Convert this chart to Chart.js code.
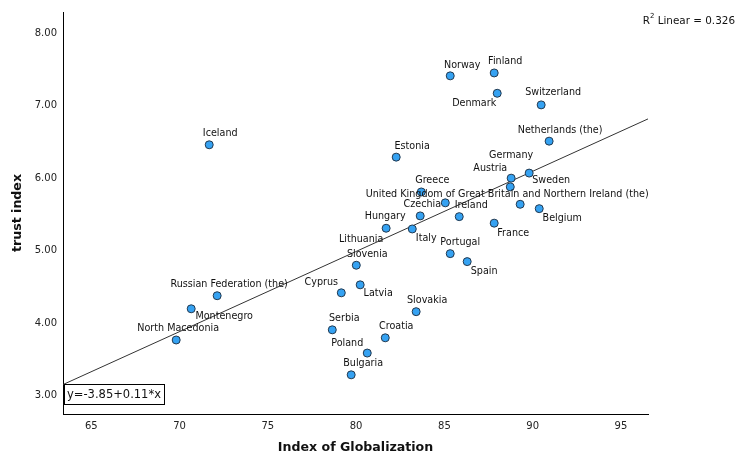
<!DOCTYPE html>
<html>
<head>
<meta charset="utf-8">
<script src="https://cdn.jsdelivr.net/npm/chart.js@4/dist/chart.umd.min.js"></script>
<style>
  html, body { margin: 0; padding: 0; background: #fff; }
  #wrap { width: 739px; height: 456px; }
</style>
</head>
<body>
<div id="wrap"><canvas id="myChart"></canvas></div>
<script>
const countries = ["Norway", "Finland", "Denmark", "Switzerland", "Netherlands (the)", "Iceland",
  "Estonia", "Germany", "Austria", "Sweden",
  "United Kingdom of Great Britain and Northern Ireland (the)", "Belgium", "France", "Greece",
  "Czechia", "Hungary", "Ireland", "Lithuania", "Italy", "Portugal", "Spain", "Slovenia",
  "Latvia", "Cyprus", "Slovakia", "Serbia", "Croatia", "Poland", "Bulgaria",
  "Russian Federation (the)", "Montenegro", "North Macedonia"];
const globalization = [85.33, 87.82, 87.99, 90.48, 90.93, 71.68, 82.27, 88.78, 88.73, 89.80,
  89.29, 90.37, 87.82, 83.69, 85.05, 83.63, 85.84, 81.70, 83.18, 85.33, 86.29, 80.01,
  80.23, 79.16, 83.40, 78.65, 81.65, 80.63, 79.72, 72.13, 70.66, 69.81];
const trust = [7.41, 7.45, 7.17, 7.01, 6.51, 6.46, 6.29, 6.00, 5.88, 6.07,
  5.64, 5.58, 5.38, 5.81, 5.66, 5.48, 5.47, 5.31, 5.30, 4.96, 4.85, 4.80,
  4.53, 4.42, 4.16, 3.91, 3.80, 3.59, 3.29, 4.38, 4.20, 3.77];
const xTicks = [65, 70, 75, 80, 85, 90, 95];
const yTicks = [3, 4, 5, 6, 7, 8];
const fitIntercept = -3.85;
const fitSlope = 0.1105;
const rSquared = 0.326;

// where each name sits relative to its point (pixels, text centre)
const labelOffsets = [[12,-10],[11,-11],[-23,10],[12,-12],[11,-11],[11,-11],
  [16,-11],[0,-23],[-20,-18],[22,7],
  [-13,-10],[23,10],[19,10],[11,-11],
  [-23,2],[-35,1],[12,-11],[-25,11],[14,10],[10,-11],[17,10],[11,-11],
  [18,9],[-20,-10],[11,-11],[12,-11],[11,-11],[-20,-10],[12,-11],
  [12,-11],[33,8],[2,-11]];

const xMin = 63.4, xMax = 96.53;
const font = "'DejaVu Sans', sans-serif";

const labelPlugin = {
  id: 'labels',
  afterDatasetsDraw(chart) {
    const c = chart.ctx;
    const meta = chart.getDatasetMeta(0);
    c.save();
    c.font = "9.6px " + font;
    c.fillStyle = "#111";
    c.textAlign = "center";
    c.textBaseline = "middle";
    meta.data.forEach((pt, i) => {
      c.fillText(countries[i], pt.x + labelOffsets[i][0], pt.y + labelOffsets[i][1]);
    });
    c.restore();
  },
  afterDraw(chart) {
    const c = chart.ctx;
    const a = chart.chartArea;
    c.save();
    // equation box
    c.font = "11.5px " + font;
    c.textBaseline = "middle";
    c.textAlign = "left";
    const eq = "y=" + fitIntercept.toFixed(2) + "+" + fitSlope.toFixed(2) + "*x";
    const w = c.measureText(eq).width;
    c.fillStyle = "#fff";
    c.fillRect(a.left + 1, 384, w + 6, 20);
    c.strokeStyle = "#000";
    c.lineWidth = 1;
    c.strokeRect(a.left + 1.5, 384.5, w + 6, 20);
    c.fillStyle = "#111";
    c.fillText(eq, a.left + 4, 395);
    // R squared
    c.font = "10.4px " + font;
    const rest = " Linear = " + rSquared.toFixed(3);
    const wr = c.measureText(rest).width;
    const right = 735;
    c.fillText(rest, right - wr, 21);
    c.font = "7px " + font;
    const w2 = c.measureText("2").width;
    c.fillText("2", right - wr - w2, 16);
    c.font = "10.4px " + font;
    const wR = c.measureText("R").width;
    c.fillText("R", right - wr - w2 - wR, 21);
    c.restore();
  }
};

new Chart(document.getElementById('myChart'), {
  type: 'scatter',
  data: {
    datasets: [{
      label: 'trust',
      data: globalization.map((x, i) => ({ x: x, y: trust[i] })),
      backgroundColor: "#35a2f2",
      borderColor: "#22384e",
      borderWidth: 1,
      pointRadius: 4,
      pointHoverRadius: 4
    }, {
      type: 'line',
      label: 'fit',
      data: [
        { x: xMin, y: fitIntercept + fitSlope * xMin },
        { x: xMax, y: fitIntercept + fitSlope * xMax }
      ],
      borderColor: "#333",
      borderWidth: 1,
      pointRadius: 0,
      fill: false
    }]
  },
  options: {
    responsive: true,
    maintainAspectRatio: false,
    animation: false,
    layout: { padding: { top: 12, right: 91, left: 0, bottom: 0 } },
    plugins: { legend: { display: false }, tooltip: { enabled: false } },
    scales: {
      x: {
        type: 'linear',
        min: xMin,
        max: xMax,
        afterBuildTicks: s => { s.ticks = xTicks.map(v => ({ value: v })); },
        afterFit: s => { s.height = 42; },
        grid: { display: false, drawTicks: false },
        border: { display: true, color: "#000", width: 1 },
        ticks: { color: "#222", font: { family: font, size: 10 }, padding: 6 },
        title: { display: true, text: "Index of Globalization", color: "#111",
                 font: { family: font, size: 12.6, weight: 'bold' }, padding: { top: 0, bottom: 1 } }
      },
      y: {
        min: 2.75,
        max: 8.29,
        afterBuildTicks: s => { s.ticks = yTicks.map(v => ({ value: v })); },
        afterFit: s => { s.width = 63; },
        grid: { display: false, drawTicks: false },
        border: { display: true, color: "#000", width: 1 },
        ticks: { color: "#222", font: { family: font, size: 10 }, padding: 6,
                 callback: v => Number(v).toFixed(2) },
        title: { display: true, text: "trust index", color: "#111",
                 font: { family: font, size: 12.6, weight: 'bold' }, padding: { top: 10, bottom: 0 } }
      }
    }
  },
  plugins: [labelPlugin]
});
</script>
</body>
</html>
